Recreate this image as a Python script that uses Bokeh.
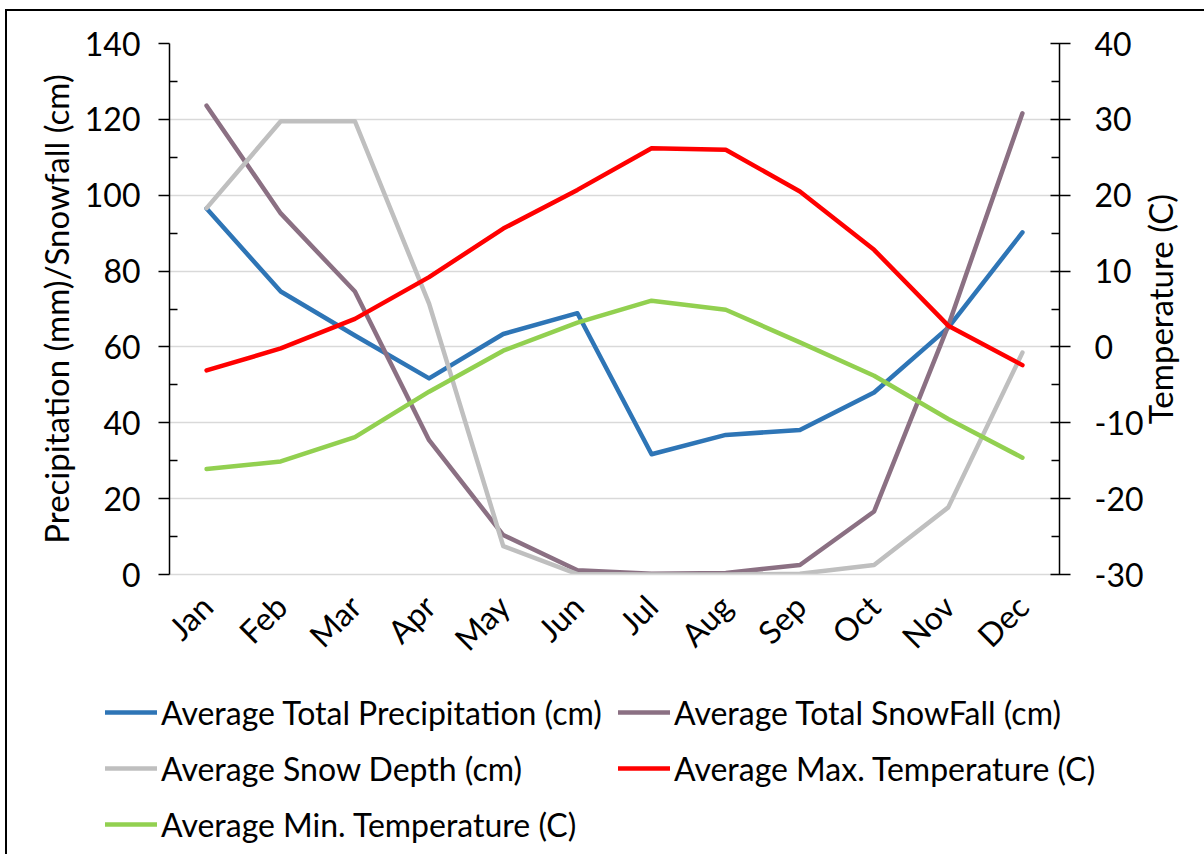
import math

from bokeh.embed import file_html
from bokeh.resources import INLINE
from bokeh.layouts import column, row
from bokeh.plotting import figure
from bokeh.models import (
    FixedTicker, Legend, LegendItem, LinearAxis, Range1d, FactorRange,
)

# Monthly climate normals
months = ["Jan", "Feb", "Mar", "Apr", "May", "Jun",
          "Jul", "Aug", "Sep", "Oct", "Nov", "Dec"]
precip_cm = [96.5, 74.6, 63.0, 51.7, 63.4, 68.9, 31.7, 36.8, 38.1, 48.0, 65.1, 90.2]
snowfall_cm = [123.6, 95.2, 74.6, 35.4, 10.4, 1.1, 0.2, 0.4, 2.5, 16.6, 65.6, 121.6]
snow_depth_cm = [96.6, 119.5, 119.5, 71.4, 7.5, 0.1, 0.0, 0.0, 0.2, 2.5, 17.7, 58.5]
max_temp_c = [-3.1, -0.2, 3.7, 9.2, 15.6, 20.7, 26.2, 26.0, 20.5, 12.8, 2.8, -2.4]
min_temp_c = [-16.1, -15.1, -11.9, -5.9, -0.5, 3.2, 6.1, 4.9, 0.6, -3.8, -9.5, -14.6]

left_ticks = [0, 20, 40, 60, 80, 100, 120, 140]
right_ticks = [-30, -20, -10, 0, 10, 20, 30, 40]

series = [
    ("Average Total Precipitation (cm)", precip_cm, "#2E75B6", "default"),
    ("Average Total SnowFall (cm)", snowfall_cm, "#8B7083", "default"),
    ("Average Snow Depth (cm)", snow_depth_cm, "#BFBFBF", "default"),
    ("Average Max. Temperature (C)", max_temp_c, "#FF0000", "temp"),
    ("Average Min. Temperature (C)", min_temp_c, "#92D050", "temp"),
]

FONT = "Lato"
TXT = "#000000"
W = 1197          # inner width of the framed area
CHART_W = 1142    # main chart, up to the right tick labels
TITLE_W = 68      # strip for the temperature axis title
OVERLAP = 13      # the title strip tucks under the chart's right margin
TOP_H = 669       # chart row height
temp_range = Range1d(-30, 40)

p = figure(
    width=CHART_W, height=TOP_H,
    x_range=FactorRange(*months, range_padding=0),
    y_range=Range1d(0, 140),
    output_backend="svg", toolbar_location=None,
    min_border_left=162, min_border_right=90,
    min_border_top=32, min_border_bottom=106,
)
p.extra_y_ranges = {"temp": temp_range}
p.outline_line_color = None

# Primary (left) axis
yl = p.yaxis[0]
yl.ticker = FixedTicker(ticks=left_ticks, minor_ticks=list(range(10, 140, 20)))
yl.axis_label = "Precipitation (mm)/Snowfall (cm)"
yl.major_tick_in = 0
yl.major_tick_out = 11
yl.minor_tick_in = 8
yl.minor_tick_out = 0
yl.major_label_standoff = 18
yl.axis_label_standoff = 6

# Secondary (right) axis for temperatures
yr = LinearAxis(y_range_name="temp")
yr.ticker = FixedTicker(ticks=right_ticks, minor_ticks=list(range(-25, 40, 10)))
yr.major_label_overrides = {t: str(t) for t in right_ticks}
yr.major_tick_in = 9
yr.major_tick_out = 11
yr.minor_tick_in = 8
yr.minor_tick_out = 0
yr.major_label_standoff = 24
p.add_layout(yr, "right")

for ax in (yl, yr):
    ax.axis_line_color = "black"
    ax.axis_line_width = 1.5
    ax.major_tick_line_width = 1.5
    ax.minor_tick_line_width = 1.5

# Category axis
xa = p.xaxis[0]
xa.axis_line_color = "#D9D9D9"
xa.axis_line_width = 1.5
xa.major_tick_line_color = None
xa.minor_tick_line_color = None
xa.major_label_orientation = math.pi / 4
xa.major_label_standoff = 20

for ax in (yl, yr, xa):
    ax.major_label_text_font = FONT
    ax.major_label_text_font_size = "32px"
    ax.major_label_text_color = TXT
    ax.axis_label_text_font = FONT
    ax.axis_label_text_font_size = "33px"
    ax.axis_label_text_font_style = "normal"
    ax.axis_label_text_color = TXT

p.xgrid.grid_line_color = None
p.ygrid.ticker = FixedTicker(ticks=left_ticks)
p.ygrid.grid_line_color = "#D9D9D9"
p.ygrid.grid_line_width = 1.5

style = dict(line_width=4.5, line_cap="round", line_join="round")
for name, vals, color, rng in series:
    p.line(months, vals, color=color, y_range_name=rng, **style)

# Narrow transparent strip carrying the temperature axis title (bottom-to-top)
tt = figure(
    width=TITLE_W, height=TOP_H,
    x_range=Range1d(0, 1), y_range=temp_range,
    output_backend="svg", toolbar_location=None,
    min_border_left=40, min_border_right=0,
    min_border_top=32, min_border_bottom=106,
    x_axis_type=None, margin=(0, 0, 0, -OVERLAP),
)
tt.outline_line_color = None
tt.background_fill_alpha = 0
tt.border_fill_alpha = 0
tt.grid.visible = False
ta = tt.yaxis[0]
ta.ticker = FixedTicker(ticks=[])
ta.axis_line_color = None
ta.major_tick_line_color = None
ta.minor_tick_line_color = None
ta.major_tick_out = 0
ta.major_label_standoff = 0
ta.axis_label = "Temperature (C)"
ta.axis_label_standoff = 0
ta.axis_label_text_font = FONT
ta.axis_label_text_font_size = "33px"
ta.axis_label_text_font_style = "normal"
ta.axis_label_text_color = TXT

# Legend strip under the chart; its own series copies sit outside the
# visible y window so that only the legend swatches show.
lg = figure(
    width=W, height=174,
    x_range=FactorRange(*months, range_padding=0),
    y_range=Range1d(1000, 1001),
    output_backend="svg", toolbar_location=None,
    min_border=0, x_axis_type=None, y_axis_type=None,
)
lg.outline_line_color = None
lg.grid.visible = False

items = []
for name, vals, color, rng in series:
    r = lg.line(months, vals, color=color, **style)
    items.append(LegendItem(label=name, renderers=[r]))

legend = Legend(
    items=items,
    orientation="horizontal", ncols=2,
    location=(98, 2),
    padding=0, margin=0, spacing=0,
    glyph_width=52, glyph_height=56,
    label_width=457, label_height=56, label_standoff=4,
    label_text_font=FONT, label_text_font_size="32px", label_text_color=TXT,
    border_line_color=None, background_fill_alpha=0,
)
lg.add_layout(legend, "center")

page = column(
    row(p, tt, spacing=0), row(lg), spacing=0, margin=(9, 0, 0, 5),
    styles={"border-left": "2px solid black", "border-top": "2px solid black"},
)

open("out.html", "w").write(file_html(page, INLINE))
